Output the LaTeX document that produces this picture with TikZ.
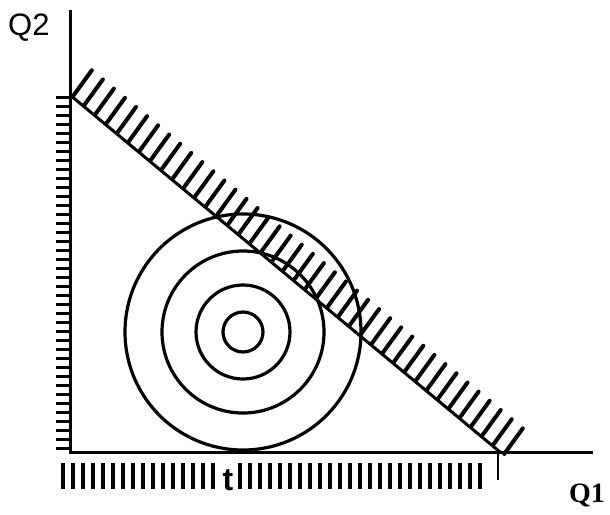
\documentclass[tikz,border=0pt]{standalone}
\usepackage{fontspec}
\newfontfamily\helv{Liberation Sans}
\newfontfamily\tms{Liberation Serif}
\begin{document}
\begin{tikzpicture}[x=1pt,y=-1pt,
  axis/.style={line width=3pt},
  ring/.style={line width=3.2pt},
  hatch/.style={line width=4pt, line cap=round},
  tick/.style={line width=3pt},
  bar/.style={fill=black},
  lbl/.style={inner sep=0pt}]
\useasboundingbox (0,0) rectangle (610,514);
\coordinate (O) at (70,452);
\coordinate (Ytop) at (70,10);
\coordinate (Xend) at (593,452);
\coordinate (A) at (70,95);
\coordinate (B) at (500,452);
\coordinate (C) at (243,332);
% axes
\draw[axis] (Ytop) -- (O) -- (Xend);
% budget line
\draw[axis] (A) -- (B);
\draw[line width=2.5pt] (498,452) -- (498,480);
% left ticks
\foreach \y in {97,106,...,448} \draw[tick] (56,\y) -- (70,\y);
% hatches above line
\foreach \k in {0,...,39} {
  \pgfmathsetmacro\bx{70+(3+14.37*\k)*0.769+1}
  \pgfmathsetmacro\by{95+(3+14.37*\k)*0.639-1.15}
  \draw[hatch] (\bx,\by) -- ++(18.5,-25.5);
}
% circles
\foreach \r in {20,47,81,118} \draw[ring] (C) circle[radius=\r pt];
% bottom bars
\foreach \k in {0,...,15} \fill[bar] (61+10*\k,463) rectangle ++(4,26);
\foreach \k in {0,...,24} \fill[bar] (238+10*\k,463) rectangle ++(4,26);
% labels
\node[lbl, anchor=base west, font=\helv\fontsize{31}{31}\selectfont] (q2) at (8,35) {Q2};
\node[lbl, anchor=base, font=\tms\bfseries\fontsize{28}{28}\selectfont] (q1) at (587,502) {Q1};
\node[lbl, anchor=base, font=\helv\bfseries\fontsize{32}{32}\selectfont] (t) at (228,490) {t};
\end{tikzpicture}
\end{document}
